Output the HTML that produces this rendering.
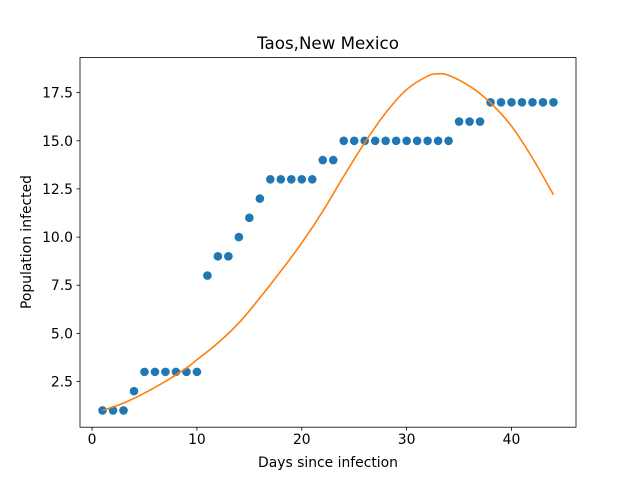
<!DOCTYPE html>
<html><head><meta charset="utf-8"><style>
body{margin:0;background:#fff}
text{font-family:"DejaVu Sans","Liberation Sans",sans-serif;fill:#000}
</style></head><body>
<svg id="chart" width="640" height="480" xmlns="http://www.w3.org/2000/svg">
<rect width="640" height="480" fill="#fff"/>
<text x="328" y="49" font-size="16.7" text-anchor="middle">Taos,New Mexico</text>
<g id="plot"></g>
<rect x="80" y="57.6" width="496" height="369.6" fill="none" stroke="#000" stroke-width="0.8"/>
<text x="328" y="467" font-size="13.9" text-anchor="middle">Days since infection</text>
<text transform="translate(31,242) rotate(-90)" font-size="13.9" text-anchor="middle">Population infected</text>
</svg>
<script>
const days = [1,2,3,4,5,6,7,8,9,10,11,12,13,14,15,16,17,18,19,20,21,22,23,24,25,26,27,28,29,30,31,32,33,34,35,36,37,38,39,40,41,42,43,44];
const infected = [1,1,1,2,3,3,3,3,3,3,8,9,9,10,11,12,13,13,13,13,13,14,14,15,15,15,15,15,15,15,15,15,15,15,16,16,16,17,17,17,17,17,17,17];
const fitDays = [1,3,5,7,9,10,12,14,16,18,20,22,24,26,28,30,32,33,34,36,38,40,42,44];
const fitValues = [1.0,1.38,1.9,2.51,3.2,3.63,4.5,5.54,6.84,8.23,9.7,11.34,13.16,14.9,16.45,17.66,18.36,18.48,18.4,17.84,16.97,15.76,14.1,12.2];
const xTicks = [0,10,20,30,40];
const yTicks = [2.5,5.0,7.5,10.0,12.5,15.0,17.5];
const yTickLabels = ["2.5","5.0","7.5","10.0","12.5","15.0","17.5"];

const X0=80,X1=576,Y0=427.2,Y1=57.6;
const xmin=-1.15,xmax=46.15,ymin=0.1275,ymax=19.32;
const sx=v=>X0+(v-xmin)/(xmax-xmin)*(X1-X0);
const sy=v=>Y0-(v-ymin)/(ymax-ymin)*(Y0-Y1);
const NS='http://www.w3.org/2000/svg';
const g=document.getElementById('plot');
function mk(tag,attrs){const e=document.createElementNS(NS,tag);for(const k in attrs)e.setAttribute(k,attrs[k]);g.appendChild(e);return e;}

xTicks.forEach(t=>{
  const l=mk('line',{x1:sx(t),x2:sx(t),y1:Y0,y2:Y0+3.5,stroke:'#000','stroke-width':0.8});
  
  
  const tx=mk('text',{x:sx(t),y:Y0+17,'font-size':13.9,'text-anchor':'middle'});
  tx.textContent=t;
  
  
});
yTicks.forEach((t,i)=>{
  const l=mk('line',{x1:X0-3.5,x2:X0,y1:sy(t),y2:sy(t),stroke:'#000','stroke-width':0.8});
  
  
  const tx=mk('text',{x:X0-7,y:sy(t)+5,'font-size':13.9,'text-anchor':'end'});
  tx.textContent=yTickLabels[i];
  
  
});
days.forEach((d,i)=>{
  const c=mk('circle',{cx:sx(d),cy:sy(infected[i]),r:4.3,fill:'#1f77b4'});
  
  
});
// smooth Catmull-Rom path through fit points
const P=fitDays.map((d,i)=>[sx(d),sy(fitValues[i])]);
let dstr='M'+P[0][0].toFixed(2)+','+P[0][1].toFixed(2);
for(let i=0;i<P.length-1;i++){
  const p0=P[Math.max(0,i-1)],p1=P[i],p2=P[i+1],p3=P[Math.min(P.length-1,i+2)];
  const c1=[p1[0]+(p2[0]-p0[0])/6,p1[1]+(p2[1]-p0[1])/6];
  const c2=[p2[0]-(p3[0]-p1[0])/6,p2[1]-(p3[1]-p1[1])/6];
  dstr+=' C'+c1.map(v=>v.toFixed(2)).join(',')+' '+c2.map(v=>v.toFixed(2)).join(',')+' '+p2.map(v=>v.toFixed(2)).join(',');
}
const line=mk('path',{d:dstr,fill:'none',stroke:'#ff7f0e','stroke-width':1.6,'stroke-linejoin':'round'});


</script>
</body></html>
